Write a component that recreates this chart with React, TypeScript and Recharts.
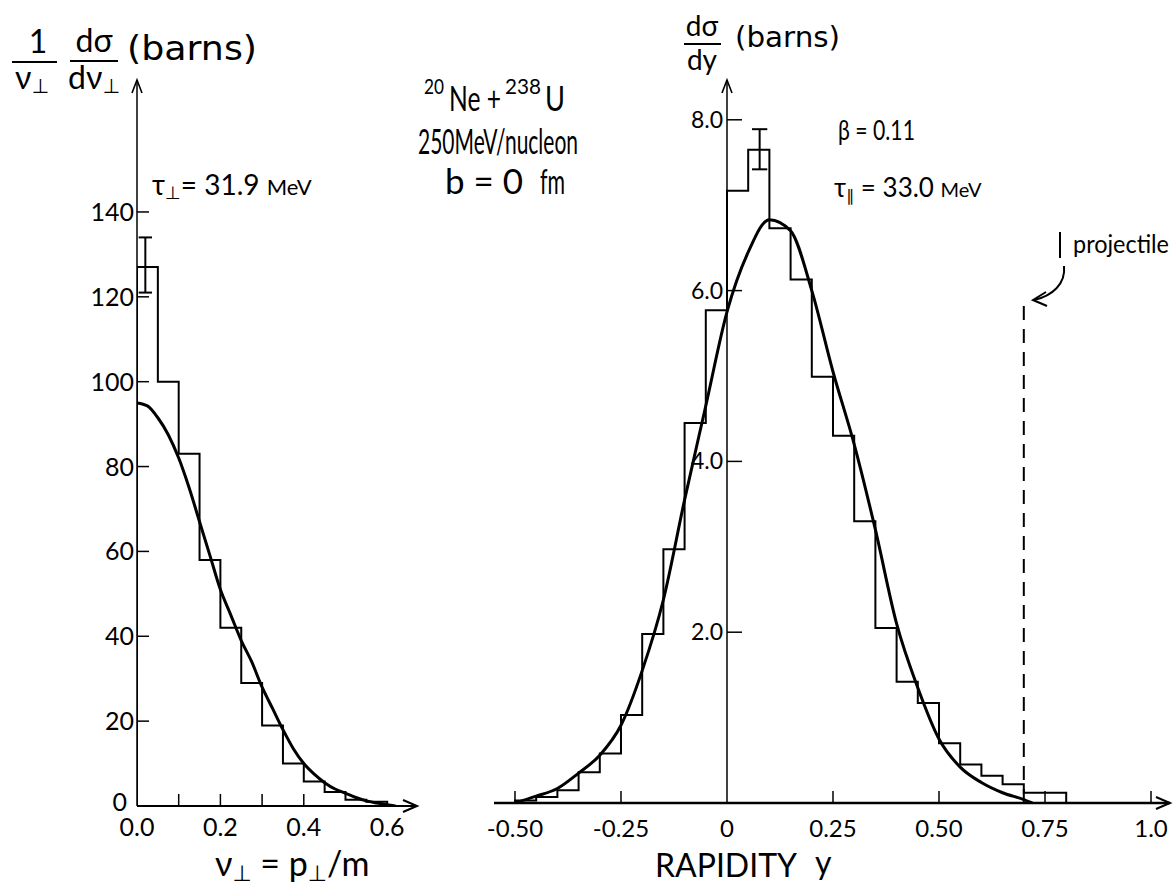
import React from "react";
import { ComposedChart, Line, XAxis, YAxis, ReferenceLine, ReferenceDot } from "recharts";

const font = "Lato, 'DejaVu Sans', sans-serif";
const wide = "'DejaVu Sans', Lato, sans-serif";
const ink = "#000";

// left panel: 1/v dσ/dv against v = p/m
const vEdges = [0, 0.05, 0.1, 0.15, 0.2, 0.25, 0.3, 0.35, 0.4, 0.45, 0.5, 0.55, 0.6];
const vCounts = [127, 100, 83, 58, 42, 29, 19, 10, 5.8, 3.3, 1.5, 1];
const vFitX = [0, 0.025, 0.05, 0.075, 0.1, 0.125, 0.15, 0.175, 0.2, 0.225, 0.25, 0.275, 0.3, 0.325, 0.35, 0.375, 0.4, 0.425, 0.45, 0.475, 0.5, 0.525, 0.55, 0.575, 0.6, 0.62];
const vFitY = [95, 94.3, 91.5, 87.5, 82, 75, 67, 59, 51, 45, 39, 34, 28, 23, 18, 13.5, 10, 7.5, 5.5, 4, 3, 2, 1.2, 0.7, 0.3, 0];
const vErr = { x: 0.02, lo: 121, hi: 134 };
const vTicksX = [0, 0.1, 0.2, 0.3, 0.4, 0.5, 0.6];
const vTickLabelsX = ["0.0", "", "0.2", "", "0.4", "", "0.6"];
const vTickMarksX = [0.1, 0.2, 0.3, 0.4];
const vTicksY = [0, 20, 40, 60, 80, 100, 120, 140];

// right panel: dσ/dy against rapidity
const yEdges = [-0.5, -0.45, -0.4, -0.35, -0.3, -0.25, -0.2, -0.15, -0.1, -0.05, 0, 0.05, 0.1, 0.15, 0.2, 0.25, 0.3, 0.35, 0.4, 0.45, 0.5, 0.55, 0.6, 0.65, 0.7, 0.75, 0.8];
const yCounts = [0.03, 0.07, 0.15, 0.36, 0.58, 1.03, 1.98, 2.97, 4.45, 5.77, 7.17, 7.65, 6.73, 6.13, 4.99, 4.3, 3.3, 2.05, 1.42, 1.17, 0.7, 0.45, 0.32, 0.22, 0.12, 0.12];
const yFitX = [-0.5, -0.45, -0.4, -0.35, -0.3, -0.25, -0.2, -0.15, -0.1, -0.05, 0, 0.05, 0.1, 0.15, 0.2, 0.25, 0.3, 0.35, 0.4, 0.45, 0.5, 0.55, 0.6, 0.65, 0.7, 0.72];
const yFitY = [0, 0.08, 0.17, 0.35, 0.56, 0.91, 1.55, 2.38, 3.55, 4.65, 5.75, 6.45, 6.83, 6.7, 6.0, 5.05, 4.2, 3.2, 2.1, 1.35, 0.75, 0.42, 0.24, 0.12, 0.04, 0];
const yErr = { x: 0.077, lo: 7.42, hi: 7.89 };
const yTicksX = [-0.5, -0.25, 0, 0.25, 0.5, 0.75, 1.0];
const yTickLabelsX = ["-0.50", "-0.25", "0", "0.25", "0.50", "0.75", "1.0"];
const yTicksY = [2, 4, 6, 8];
const yTickLabelsY = ["2.0", "4.0", "6.0", "8.0"];
const projectileY = 0.7;
const projectileTop = 5.85;

const steps = (edges: number[], counts: number[]) => {
  const pts = [{ x: edges[0], h: 0 }];
  edges.forEach((e, i) => pts.push({ x: e, h: i < counts.length ? counts[i] : 0 }));
  return pts;
};
const curve = (xs: number[], ys: number[]) => xs.map((x, i) => ({ x, h: ys[i] }));

const ArrowRight = (p: any) => (
  <path d={`M${p.cx - 14},${p.cy - 6}L${p.cx},${p.cy}L${p.cx - 14},${p.cy + 6}`} fill="none" stroke={ink} strokeWidth={2} />
);
const ArrowUp = (p: any) => (
  <path d={`M${p.cx - 5},${p.cy + 13}L${p.cx},${p.cy}L${p.cx + 5},${p.cy + 13}`} fill="none" stroke={ink} strokeWidth={1.6} />
);

function errLines(e: { x: number; lo: number; hi: number }, w: number) {
  return [
    <ReferenceLine key="v" segment={[{ x: e.x, y: e.lo }, { x: e.x, y: e.hi }]} stroke={ink} strokeWidth={2} ifOverflow="visible" />,
    <ReferenceLine key="t" segment={[{ x: e.x - w, y: e.hi }, { x: e.x + w, y: e.hi }]} stroke={ink} strokeWidth={2} ifOverflow="visible" />,
    <ReferenceLine key="b" segment={[{ x: e.x - w, y: e.lo }, { x: e.x + w, y: e.lo }]} stroke={ink} strokeWidth={2} ifOverflow="visible" />,
  ];
}

function LeftPanel() {
  const tickX = (p: any) => {
    const v = p.payload.value;
    const i = vTicksX.indexOf(v);
    return (
      <g>
        {vTickMarksX.includes(v) && <line x1={p.x} x2={p.x} y1={p.y} y2={p.y - 12} stroke={ink} strokeWidth={1.5} />}
        <text x={p.x} y={p.y + 30} textAnchor="middle" fontSize={25} fontFamily={font} fill={ink}>{vTickLabelsX[i]}</text>
      </g>
    );
  };
  const tickY = (p: any) => {
    const v = p.payload.value;
    return (
      <g>
        {v > 0 && <line x1={p.x} x2={p.x + 12} y1={p.y} y2={p.y} stroke={ink} strokeWidth={1.5} />}
        <text x={p.x - (v === 0 ? 10 : 3)} y={p.y + (v === 0 ? 5 : 9)} textAnchor="end" fontSize={25} fontFamily={font} fill={ink}>{v}</text>
      </g>
    );
  };
  return (
    <ComposedChart width={460} height={887} margin={{ top: 80, right: 43, bottom: 80, left: 136 }} style={{ overflow: "visible" }}>
      <XAxis type="number" dataKey="x" domain={[0, 0.6715]} ticks={vTicksX} interval={0} allowDataOverflow tick={tickX} tickLine={false} tickSize={0} tickMargin={0} height={1} axisLine={{ stroke: ink, strokeWidth: 2 }} />
      <YAxis type="number" domain={[0, 171.1]} ticks={vTicksY} interval={0} allowDataOverflow tick={tickY} tickLine={false} tickSize={0} tickMargin={0} width={1} axisLine={{ stroke: ink, strokeWidth: 1.5 }} />
      <Line data={steps(vEdges, vCounts)} dataKey="h" type="stepAfter" stroke={ink} strokeWidth={2} dot={false} activeDot={false} isAnimationActive={false} />
      <Line data={curve(vFitX, vFitY)} dataKey="h" type="monotone" stroke={ink} strokeWidth={3} dot={false} activeDot={false} isAnimationActive={false} />
      {errLines(vErr, 0.016)}
      <ReferenceDot x={0.6715} y={0} r={0} shape={ArrowRight} ifOverflow="visible" />
      <ReferenceDot x={0} y={171.1} r={0} shape={ArrowUp} ifOverflow="visible" />
    </ComposedChart>
  );
}

function RightPanel() {
  const tickX = (p: any) => {
    const v = p.payload.value;
    const i = yTicksX.indexOf(v);
    return (
      <g>
        {v !== 0 && <line x1={p.x} x2={p.x} y1={p.y} y2={p.y - 12} stroke={ink} strokeWidth={1.5} />}
        <text x={p.x} y={p.y + 34} textAnchor="middle" fontSize={24} fontFamily={font} fill={ink}>{yTickLabelsX[i]}</text>
      </g>
    );
  };
  // the y axis of this panel stands at rapidity 0, so its ticks hang off that line
  const yTick = (label: string) => (p: any) => (
    <g>
      <line x1={p.cx} x2={p.cx + 15} y1={p.cy} y2={p.cy} stroke={ink} strokeWidth={1.5} />
      <text x={p.cx - 4} y={p.cy + 8} textAnchor="end" fontSize={23} fontFamily={font} fill={ink}>{label}</text>
    </g>
  );
  return (
    <ComposedChart width={715} height={887} margin={{ top: 80, right: 5, bottom: 83, left: 33 }} style={{ overflow: "visible" }}>
      <XAxis type="number" dataKey="x" domain={[-0.5495, 1.0448]} ticks={yTicksX} interval={0} allowDataOverflow tick={tickX} tickLine={false} tickSize={0} tickMargin={0} height={1} axisLine={{ stroke: ink, strokeWidth: 2.5 }} />
      <YAxis type="number" domain={[0, 8.466]} ticks={yTicksY} allowDataOverflow tick={false} tickLine={false} width={1} axisLine={false} />
      <ReferenceLine x={0} stroke={ink} strokeWidth={1.5} />
      {yTicksY.map((v, i) => (
        <ReferenceDot key={v} x={0} y={v} r={0} shape={yTick(yTickLabelsY[i])} ifOverflow="visible" />
      ))}
      <ReferenceLine segment={[{ x: projectileY, y: 0 }, { x: projectileY, y: projectileTop }]} stroke={ink} strokeWidth={2} strokeDasharray="14 9" ifOverflow="visible" />
      <Line data={steps(yEdges, yCounts)} dataKey="h" type="stepAfter" stroke={ink} strokeWidth={2} dot={false} activeDot={false} isAnimationActive={false} />
      <Line data={curve(yFitX, yFitY)} dataKey="h" type="monotone" stroke={ink} strokeWidth={3} dot={false} activeDot={false} isAnimationActive={false} />
      {errLines(yErr, 0.018)}
      <ReferenceDot x={1.0448} y={0} r={0} shape={ArrowRight} ifOverflow="visible" />
      <ReferenceDot x={0} y={8.466} r={0} shape={ArrowUp} ifOverflow="visible" />
    </ComposedChart>
  );
}

function Labels() {
  const t = { fontFamily: font, fill: ink };
  const fit = { lengthAdjust: "spacingAndGlyphs" as const };
  return (
    <svg width={1175} height={887} style={{ position: "absolute", left: 0, top: 0, pointerEvents: "none" }}>
      {/* left y title */}
      <g {...t} fontSize={32}>
        <text x={38} y={53} textAnchor="middle">1</text>
        <line x1={12} x2={57} y1={62} y2={62} stroke={ink} strokeWidth={2} />
        <text x={32} y={89} textAnchor="middle">ν<tspan fontSize={20} dy={4}>⊥</tspan></text>
        <text x={94} y={52} textAnchor="middle">dσ</text>
        <line x1={70} x2={118} y1={61} y2={61} stroke={ink} strokeWidth={2} />
        <text x={94} y={89} textAnchor="middle">dν<tspan fontSize={20} dy={4}>⊥</tspan></text>
        <text x={127} y={60} fontFamily={wide} fontSize={33} textLength={130} {...fit}>(barns)</text>
      </g>
      <text {...t} x={152} y={195} fontSize={28}>τ<tspan fontSize={18} dy={4}>⊥</tspan><tspan dy={-4}>= 31.9 </tspan><tspan fontSize={22}>MeV</tspan></text>
      {/* reaction */}
      <g {...t} fontSize={34}>
        <text x={424} y={94} fontSize={22} textLength={20} {...fit}>20</text>
        <text x={449} y={111} textLength={52} {...fit}>Ne +</text>
        <text x={505} y={94} fontSize={22} textLength={36} {...fit}>238</text>
        <text x={545} y={111} textLength={20} {...fit}>U</text>
        <text x={418} y={154} textLength={160} {...fit}>250MeV/nucleon</text>
        <text x={445} y={194} textLength={78} {...fit}>b = 0</text>
        <text x={540} y={194} textLength={25} {...fit}>fm</text>
      </g>
      {/* right y title */}
      <g {...t} fontSize={28}>
        <text x={702} y={36} textAnchor="middle">dσ</text>
        <line x1={684} x2={721} y1={44} y2={44} stroke={ink} strokeWidth={2} />
        <text x={702} y={70} textAnchor="middle">dy</text>
        <text x={735} y={47} fontFamily={wide} fontSize={29} textLength={105} {...fit}>(barns)</text>
      </g>
      <text {...t} x={838} y={140} fontSize={26} textLength={77} {...fit}>β = 0.11</text>
      <text {...t} x={834} y={197} fontSize={26}>τ<tspan fontSize={16} dy={4}>∥</tspan><tspan dy={-4}> = 33.0 </tspan><tspan fontSize={20}>MeV</tspan></text>
      <line x1={1060} x2={1060} y1={232} y2={258} stroke={ink} strokeWidth={2} />
      <text {...t} x={1073} y={253} fontSize={25} textLength={96} {...fit}>projectile</text>
      <path d="M1064,266 C1066,284 1052,296 1034,300" fill="none" stroke={ink} strokeWidth={2} />
      <path d="M1046,292 L1033,300 L1047,306" fill="none" stroke={ink} strokeWidth={2} />
      {/* x titles */}
      <text {...t} x={215} y={876} fontSize={34}>ν<tspan fontSize={22} dy={5}>⊥</tspan><tspan dy={-5}> = p</tspan><tspan fontSize={22} dy={5}>⊥</tspan><tspan dy={-5}>/m</tspan></text>
      <text {...t} x={655} y={877} fontSize={32} textLength={142} {...fit}>RAPIDITY</text>
      <text {...t} x={815} y={874} fontSize={32}>y</text>
    </svg>
  );
}

export default function App() {
  return (
    <div style={{ position: "absolute", left: 0, top: 0, width: 1175, height: 887, background: "#fff" }}>
      <div style={{ position: "absolute", left: 0, top: 0 }}>
        <LeftPanel />
      </div>
      <div style={{ position: "absolute", left: 460, top: 0 }}>
        <RightPanel />
      </div>
      <Labels />
    </div>
  );
}
